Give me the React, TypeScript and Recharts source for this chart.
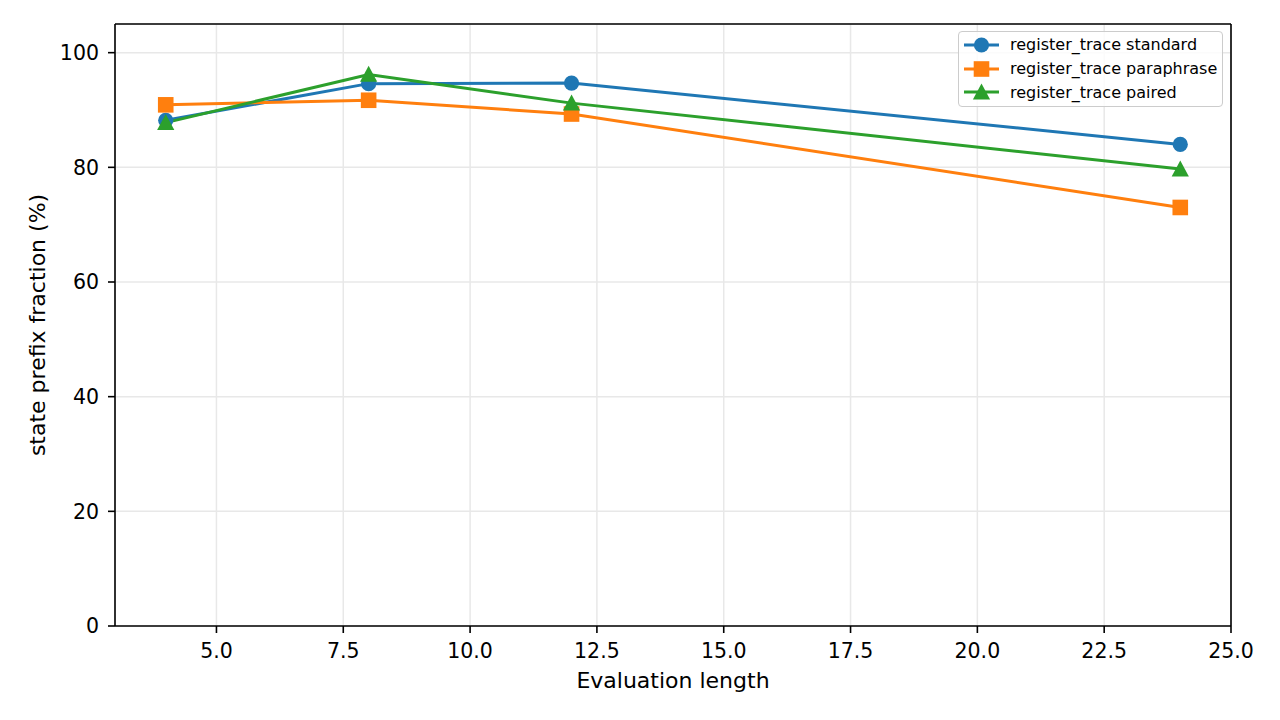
import React from "react";
import {
  LineChart,
  Line,
  XAxis,
  YAxis,
  CartesianGrid,
  ReferenceLine,
} from "recharts";

const lengths = [4, 8, 12, 24];
const standardValues = [88.2, 94.6, 94.7, 84.0];
const paraphraseValues = [90.9, 91.7, 89.3, 73.0];
const pairedValues = [87.8, 96.2, 91.2, 79.7];
const xTicks = [5, 7.5, 10, 12.5, 15, 17.5, 20, 22.5, 25];
const yTicks = [0, 20, 40, 60, 80, 100];
const seriesNames = [
  "register_trace standard",
  "register_trace paraphrase",
  "register_trace paired",
];

const COLORS = ["#1f77b4", "#ff7f0e", "#2ca02c"];
const FONT = "'DejaVu Sans', sans-serif";

const data = lengths.map((x, i) => ({
  x,
  standard: standardValues[i],
  paraphrase: paraphraseValues[i],
  paired: pairedValues[i],
}));

const CircleDot = (props: any) => {
  const { cx, cy } = props;
  if (cx == null || cy == null) return null;
  return <circle cx={cx} cy={cy} r={7.6} fill={COLORS[0]} />;
};
const SquareDot = (props: any) => {
  const { cx, cy } = props;
  if (cx == null || cy == null) return null;
  return (
    <rect x={cx - 7.8} y={cy - 7.8} width={15.6} height={15.6} fill={COLORS[1]} />
  );
};
const TriangleDot = (props: any) => {
  const { cx, cy } = props;
  if (cx == null || cy == null) return null;
  return (
    <polygon
      points={`${cx},${cy - 8.6} ${cx - 8.6},${cy + 7.4} ${cx + 8.6},${cy + 7.4}`}
      fill={COLORS[2]}
    />
  );
};

const LegendMarker = ({ idx }: { idx: number }) => {
  const c = COLORS[idx];
  return (
    <svg width={35} height={20} style={{ display: "block", overflow: "visible" }}>
      <line x1={0} y1={10} x2={35} y2={10} stroke={c} strokeWidth={3} />
      {idx === 0 && <circle cx={17.5} cy={10} r={7.6} fill={c} />}
      {idx === 1 && <rect x={9.7} y={2.2} width={15.6} height={15.6} fill={c} />}
      {idx === 2 && <polygon points={`17.5,1.4 8.9,17.4 26.1,17.4`} fill={c} />}
    </svg>
  );
};

const LegendBox = () => (
  <div
    style={{
      position: "absolute",
      left: 958,
      top: 31,
      width: 265,
      height: 76,
      boxSizing: "border-box",
      border: "1.5px solid #cccccc",
      borderRadius: 4,
      background: "rgba(255,255,255,0.8)",
      paddingTop: 1,
      paddingLeft: 5,
      fontFamily: FONT,
      fontSize: 16,
      color: "#000",
    }}
  >
    {seriesNames.map((n, i) => (
      <div
        key={n}
        style={{ display: "flex", alignItems: "center", height: 23.7 }}
      >
        <LegendMarker idx={i} />
        <span style={{ marginLeft: 11, whiteSpace: "nowrap" }}>{n}</span>
      </div>
    ))}
  </div>
);

export default function App() {
  return (
    <div
      style={{
        position: "absolute",
        left: 0,
        top: 0,
        width: 1280,
        height: 720,
        background: "#fff",
      }}
    >
      <LineChart
        width={1280}
        height={720}
        data={data}
        margin={{ top: 24, right: 49, left: 0, bottom: 0 }}
      >
        <CartesianGrid stroke="#e8e8e8" strokeWidth={1.5} />
        <XAxis
          dataKey="x"
          type="number"
          domain={[3, 25]}
          ticks={xTicks}
          tickFormatter={(v: number) => v.toFixed(1)}
          height={94}
          axisLine={{ stroke: "#000", strokeWidth: 1.6 }}
          tickLine={{ stroke: "#000", strokeWidth: 1.6 }}
          tickSize={7}
          tickMargin={10}
          tick={{ fill: "#000", fontSize: 20.5, fontFamily: FONT }}
          allowDataOverflow
          label={(p: any) => {
            const vb = p.viewBox;
            return (
              <text
                x={vb.x + vb.width / 2}
                y={vb.y + 62}
                textAnchor="middle"
                fontSize={22}
                fontFamily={FONT}
                fill="#000"
              >
                Evaluation length
              </text>
            );
          }}
        />
        <YAxis
          type="number"
          domain={[0, 105]}
          ticks={yTicks}
          width={115}
          axisLine={{ stroke: "#000", strokeWidth: 1.6 }}
          tickLine={{ stroke: "#000", strokeWidth: 1.6 }}
          tickSize={7}
          tickMargin={9}
          tick={{ fill: "#000", fontSize: 20.5, fontFamily: FONT }}
          allowDataOverflow
          label={(p: any) => {
            const vb = p.viewBox;
            const cx = vb.x + 45;
            const cy = vb.y + vb.height / 2;
            return (
              <text
                x={cx}
                y={cy}
                transform={`rotate(-90, ${cx}, ${cy})`}
                textAnchor="middle"
                fontSize={22}
                fontFamily={FONT}
                fill="#000"
              >
                state prefix fraction (%)
              </text>
            );
          }}
        />
        <ReferenceLine y={105} stroke="#000" strokeWidth={1.6} />
        <ReferenceLine x={25} stroke="#000" strokeWidth={1.6} />
        <Line
          dataKey="standard"
          name={seriesNames[0]}
          stroke={COLORS[0]}
          strokeWidth={3}
          dot={<CircleDot />}
          activeDot={false}
          isAnimationActive={false}
        />
        <Line
          dataKey="paraphrase"
          name={seriesNames[1]}
          stroke={COLORS[1]}
          strokeWidth={3}
          dot={<SquareDot />}
          activeDot={false}
          isAnimationActive={false}
        />
        <Line
          dataKey="paired"
          name={seriesNames[2]}
          stroke={COLORS[2]}
          strokeWidth={3}
          dot={<TriangleDot />}
          activeDot={false}
          isAnimationActive={false}
        />
      </LineChart>
      <LegendBox />
    </div>
  );
}
